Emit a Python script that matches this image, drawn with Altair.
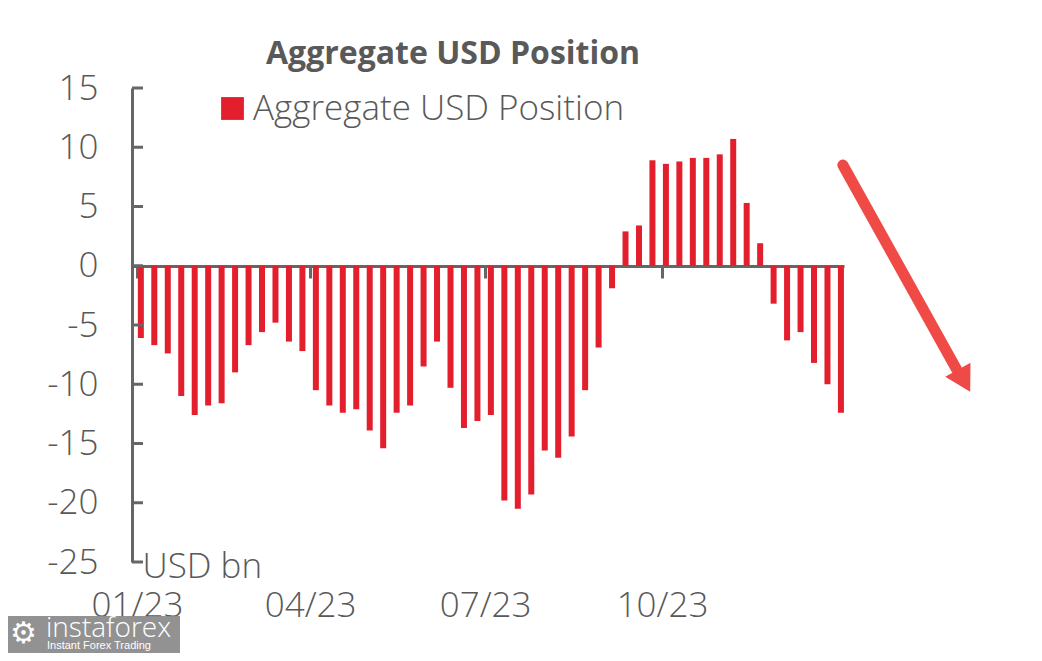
import altair as alt
import pandas as pd

# ---- data ----
start_date = "2023-01-03"
values = [-6.1, -6.7, -7.4, -11.0, -12.6, -11.8, -11.6, -9.0, -6.7, -5.6,
          -4.8, -6.4, -7.2, -10.5, -11.8, -12.4, -12.1, -13.9, -15.4, -12.4,
          -11.8, -8.5, -6.4, -10.3, -13.7, -13.1, -12.6, -19.8, -20.5, -19.3,
          -15.6, -16.2, -14.4, -10.5, -6.9, -1.9, 2.9, 3.4, 8.9, 8.6,
          8.8, 9.1, 9.1, 9.4, 10.7, 5.3, 1.9, -3.2, -6.3, -5.6,
          -8.2, -10.0, -12.4]
series_name = "Aggregate USD Position"
y_ticks = [-25, -20, -15, -10, -5, 0, 5, 10, 15]
arrow_x = ["2024-01-03T00:00:00", "2024-03-02T00:00:00"]
arrow_y = [8.5, -8.7]
head_x = ["2024-03-06T00:00:00"]
head_y = [-9.7]

dates = pd.date_range(start_date, periods=len(values), freq="7D").strftime("%Y-%m-%dT00:00:00")
df = pd.DataFrame({"date": list(dates), "value": values, "series": series_name})

FONT = "Open Sans"
GREY = "#595959"
RED = "#e31e2d"
FS = 35

xscale = alt.Scale(domain=[alt.DateTime(year=2023, month=1, date=1),
                           alt.DateTime(year=2024, month=1, date=1)], nice=False)
yscale = alt.Scale(domain=[-25, 15], nice=False, zero=False)

bars = alt.Chart(df).mark_bar(size=6).encode(
    x=alt.X("date:T", scale=xscale, title=None,
            axis=alt.Axis(values=[alt.DateTime(year=2023, month=1, date=1),
                                  alt.DateTime(year=2023, month=4, date=1),
                                  alt.DateTime(year=2023, month=7, date=1),
                                  alt.DateTime(year=2023, month=10, date=1),
                                  alt.DateTime(year=2024, month=1, date=1)],
                          labelExpr="year(datum.value) >= 2024 ? '' : timeFormat(datum.value, '%m/%y')",
                          offset=-296, domainColor="#666666", domainWidth=3,
                          tickColor="#666666", tickWidth=3, tickSize=12,
                          labelPadding=310, labelBaseline="top",
                          labelFontSize=FS, labelFontWeight=300, labelColor=GREY, labelFont=FONT,
                          grid=False, labelFlush=False, labelOverlap=False)),
    y=alt.Y("value:Q", scale=yscale,
            axis=alt.Axis(values=y_ticks, ticks=False, grid=False,
                          labelExpr="datum.value < 0 ? '-' + abs(datum.value) : '' + datum.value",
                          domainColor="#666666", domainWidth=3,
                          labelFontSize=FS, labelFontWeight=300, labelColor=GREY, labelFont=FONT,
                          labelPadding=34,
                          title="USD bn", titleAngle=0, titleX=10, titleY=478,
                          titleAlign="left", titleBaseline="middle",
                          titleFontSize=FS, titleFontWeight=300,
                          titleColor=GREY, titleFont=FONT)),
    color=alt.Color("series:N", scale=alt.Scale(range=[RED]),
                    legend=alt.Legend(title=None, orient="none", legendX=83, legendY=3,
                                      symbolType="square", symbolSize=520,
                                      symbolStrokeWidth=0, symbolOpacity=1,
                                      labelFontSize=35, labelFontWeight=300, labelColor=GREY,
                                      labelFont=FONT, labelOffset=3, labelLimit=0)),
)

tick_df = pd.DataFrame({"value": y_ticks})
yticks = alt.Chart(tick_df).mark_rule(color="#666666", strokeWidth=3).encode(
    x=alt.value(0), x2=alt.value(11), y=alt.Y("value:Q", scale=yscale)
)

arrow_df = pd.DataFrame({"date": arrow_x, "value": arrow_y})
arrow = alt.Chart(arrow_df).mark_line(color="#ef4a45", strokeWidth=11, strokeCap="round").encode(
    x=alt.X("date:T", scale=xscale), y=alt.Y("value:Q", scale=yscale)
)
head_df = pd.DataFrame({"date": head_x, "value": head_y})
head = alt.Chart(head_df).mark_point(shape="triangle-up", size=840, angle=150.6,
                                     filled=True, color="#ef4a45", opacity=1).encode(
    x=alt.X("date:T", scale=xscale), y=alt.Y("value:Q", scale=yscale)
)

wm = pd.DataFrame({"a": [0]})
wm_box = alt.Chart(wm).mark_rect(color="#8c8c8c", opacity=0.95).encode(
    x=alt.value(-132), x2=alt.value(48), y=alt.value(528), y2=alt.value(580)
)
wm_gear = alt.Chart(wm).mark_text(text="⚙", color="white", fontSize=30,
                                  font="DejaVu Sans", align="left", baseline="middle").encode(
    x=alt.value(-122), y=alt.value(546)
)
wm_text = alt.Chart(wm).mark_text(text="instaforex", color="white", fontSize=28,
                                  font="Open Sans", fontWeight=300, align="left",
                                  baseline="alphabetic").encode(
    x=alt.value(-86), y=alt.value(549)
)
wm_sub = alt.Chart(wm).mark_text(text="Instant Forex Trading", color="white", fontSize=11,
                                 font="Liberation Sans", align="left", baseline="alphabetic").encode(
    x=alt.value(-85), y=alt.value(561)
)

chart = alt.layer(bars, yticks, arrow, head, wm_box, wm_gear, wm_text, wm_sub).properties(
    width=712, height=474,
    title=alt.TitleParams("Aggregate USD Position", fontSize=32, fontWeight="bold",
                          font=FONT, color=GREY, anchor="middle", frame="group",
                          dx=-35, offset=0),
    autosize=alt.AutoSizeParams(type="none"),
    padding={"left": 124, "top": 80, "right": 190, "bottom": 91},
    background="white",
).configure_view(stroke=None)

chart.save("out.html", embed_options={"renderer": "svg", "actions": False})
